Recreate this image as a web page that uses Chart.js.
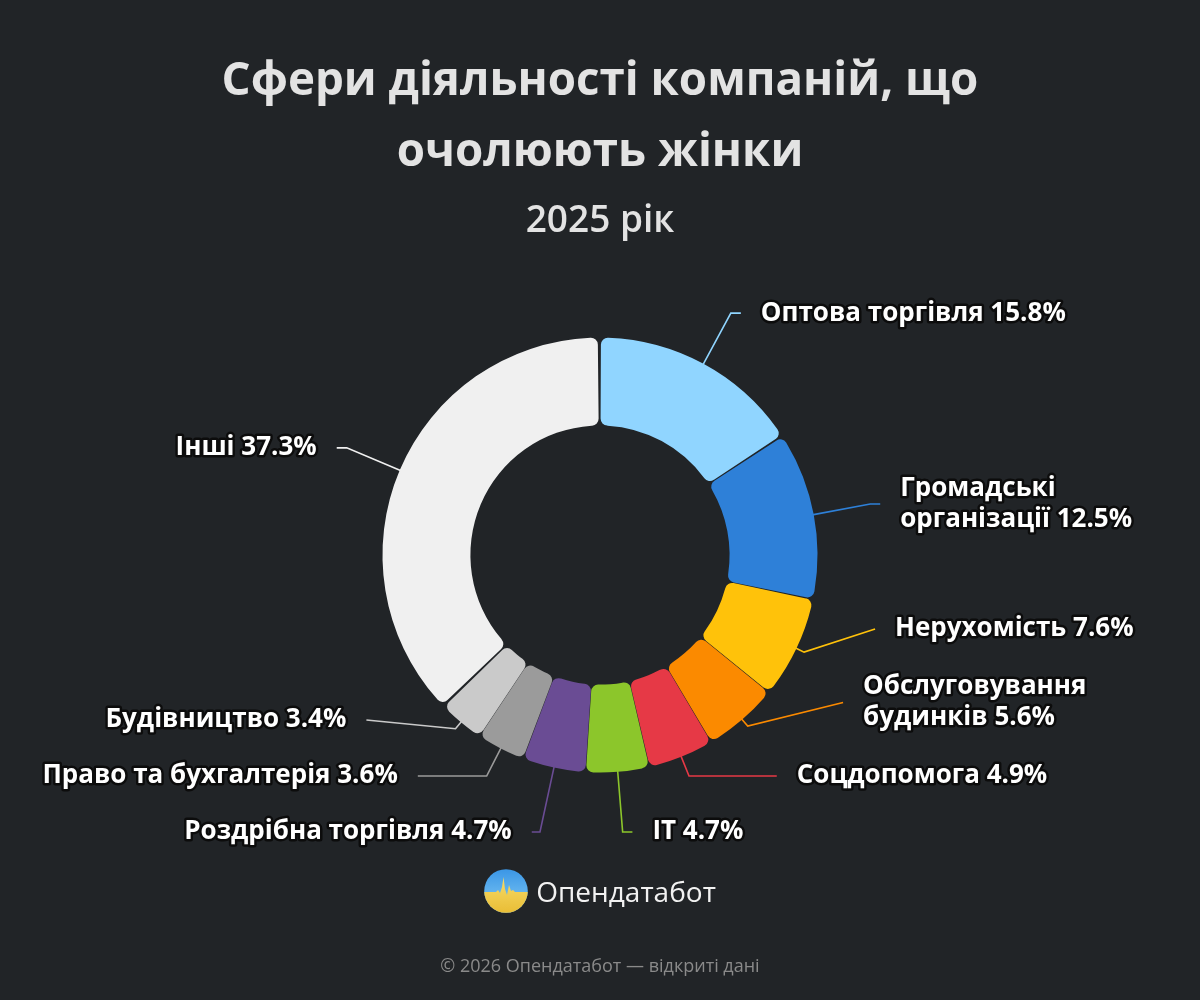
<!DOCTYPE html>
<html><head><meta charset="utf-8">
<script src="https://cdn.jsdelivr.net/npm/chart.js@4.4.1/dist/chart.umd.min.js"></script>
<style>
html,body{margin:0;padding:0;background:#212427;}
#wrap{position:relative;width:1200px;height:1000px;overflow:hidden;font-family:'Open Sans','Noto Sans',sans-serif;}
#c{position:absolute;left:0;top:0;}
.t{position:absolute;left:0;width:1200px;text-align:center;color:#e3e3e3;}
#title{top:42px;font-size:45.7px;line-height:71px;font-weight:700;}
#sub{top:192px;font-size:37px;line-height:52px;font-weight:600;}
#logo{position:absolute;top:869px;left:0;width:1200px;display:flex;justify-content:center;align-items:center;gap:8px;}
#logo span{font-size:28px;color:#f2f2f2;font-weight:400;line-height:44px;}
#foot{top:952px;font-size:18px;line-height:26px;color:#8a8a8a;}
</style></head>
<body><div id="wrap">
<canvas id="c" width="1200" height="1000"></canvas>
<div class="t" id="title">Сфери діяльності компаній, що<br>очолюють жінки</div>
<div class="t" id="sub">2025 рік</div>
<div id="logo"><svg width="44" height="44" viewBox="0 0 44 44">
<defs><clipPath id="cc"><circle cx="22" cy="22" r="21.8"/></clipPath>
<linearGradient id="gb" x1="0" y1="0" x2="0" y2="1"><stop offset="0" stop-color="#3a96e6"/><stop offset="1" stop-color="#86cdf5"/></linearGradient>
<linearGradient id="gy" x1="0" y1="0" x2="0" y2="1"><stop offset="0" stop-color="#f7dc6a"/><stop offset="1" stop-color="#e9bd35"/></linearGradient></defs>
<g clip-path="url(#cc)"><rect x="0" y="0" width="44" height="44" fill="url(#gb)"/>
<polygon fill="url(#gy)" points="0,23 12,23 14,21 16,24 18,18 19.5,8 21,20 23,26 25,16 27,22 29,21 31,23 44,23 44,44 0,44"/></g></svg><span>Опендатабот</span></div>
<div class="t" id="foot">© 2026 Опендатабот — відкриті дані</div>
</div>
<script>
const categories = ['Оптова торгівля','Громадські\nорганізації','Нерухомість','Обслуговування\nбудинків','Соцдопомога','IT','Роздрібна торгівля','Право та бухгалтерія','Будівництво','Інші'];
const shares = [15.8, 12.5, 7.6, 5.6, 4.9, 4.7, 4.7, 3.6, 3.4, 37.3];
const colors = ['#90d5ff','#2e80d8','#ffc20a','#fb8a00','#e63946','#8cc62b','#6a4c94','#9b9b9b','#cacaca','#f0f0f0'];

const LEN = 59, LEN2 = 10, GAP = 20, MINLEN = 10, LH = 31;

const labelPlugin = {
  id: 'pieLabels',
  afterDatasetsDraw(chart) {
    const ctx = chart.ctx;
    const meta = chart.getDatasetMeta(0);
    const area = chart.chartArea;
    const items = meta.data.map((arc, i) => {
      const p = arc.getProps(['x','y','startAngle','endAngle','outerRadius'], true);
      const a = (p.startAngle + p.endAngle) / 2;
      const c = Math.cos(a), s = Math.sin(a);
      const rA = p.outerRadius + LEN;
      const lines = (categories[i] + ' ' + shares[i].toFixed(1) + '%').split('\n');
      return {i, cx: p.x, cy: p.y, c, s, r: p.outerRadius, rA,
        dir: c >= 0 ? 1 : -1, ny: p.y + rA * s, nx: rA * c,
        lines, h: 21 + lines.length * 35};
    });
    const minY = area.top, maxY = area.bottom;
    function place(cl) {
      let off = 0; const offs = [];
      cl.items.forEach((it, k) => { if (k > 0) off += (cl.items[k-1].h + it.h) / 2; offs.push(off); });
      const meanN = cl.items.reduce((q, it) => q + it.ny, 0) / cl.items.length;
      const meanO = offs.reduce((q, v) => q + v, 0) / offs.length;
      let first = meanN - meanO;
      const h0 = cl.items[0].h / 2, hl = cl.items[cl.items.length-1].h / 2;
      if (first + off + hl > maxY) first -= (first + off + hl - maxY);
      if (first - h0 < minY) first += (minY - (first - h0));
      cl.items.forEach((it, k) => it.y = first + offs[k]);
      cl.top = first - h0; cl.bottom = first + off + hl;
    }
    [1, -1].forEach(side => {
      const list = items.filter(it => it.dir === side).sort((a, b) => a.ny - b.ny);
      let clusters = list.map(it => ({items: [it]}));
      clusters.forEach(place);
      let changed = true;
      while (changed) {
        changed = false;
        for (let k = 0; k < clusters.length - 1; k++) {
          if (clusters[k].bottom > clusters[k+1].top + 0.01) {
            const m = {items: clusters[k].items.concat(clusters[k+1].items)};
            place(m);
            clusters.splice(k, 2, m);
            changed = true; break;
          }
        }
      }
      [true, false].forEach(bottomSemi => {
        const semi = list.filter(it => (it.y > it.cy) === bottomSemi);
        if (!semi.length) return;
        let maxDy = -1, rB = 0;
        semi.forEach(it => {
          const dy = Math.abs(it.y - it.cy);
          if (dy >= maxDy) {
            const dx = it.nx;
            rB = Math.abs(dx) < it.rA ? Math.sqrt(dy * dy / (1 - dx * dx / (it.rA * it.rA))) : it.rA;
            maxDy = dy;
          }
        });
        semi.forEach(it => {
          const dy = Math.abs(it.y - it.cy);
          const f = rB > 0 ? Math.max(0, 1 - dy * dy / (rB * rB)) : 1;
          const dx = Math.sqrt(f) * it.rA;
          it.x = it.cx + (dx + LEN2) * it.dir;
        });
      });
    });
    ctx.save();
    items.forEach(it => {
      const p0x = it.cx + it.r * it.c, p0y = it.cy + it.r * it.s;
      let p1x, p1y;
      const t = Math.abs(it.s) > 1e-6 ? (it.y - p0y) / it.s : -1;
      if (t >= MINLEN && it.dir * (it.x - (p0x + t * it.c)) >= 0) {
        p1x = p0x + t * it.c; p1y = it.y;
      } else {
        p1x = p0x + MINLEN * it.c; p1y = p0y + MINLEN * it.s;
      }
      ctx.beginPath();
      ctx.moveTo(p0x, p0y); ctx.lineTo(p1x, p1y); ctx.lineTo(it.x, it.y);
      ctx.strokeStyle = colors[it.i]; ctx.lineWidth = 1.6; ctx.lineJoin = 'miter';
      ctx.stroke();
      ctx.font = '700 26px "Open Sans"';
      ctx.textBaseline = 'middle';
      ctx.textAlign = it.dir > 0 ? 'left' : 'right';
      const tx = it.x + GAP * it.dir;
      it.lines.forEach((ln, k) => {
        const ly = it.y + (k - (it.lines.length - 1) / 2) * LH;
        ctx.lineJoin = 'round';
        ctx.lineWidth = 5; ctx.strokeStyle = '#0c0c0c';
        ctx.strokeText(ln, tx, ly);
        ctx.fillStyle = '#ffffff';
        ctx.fillText(ln, tx, ly);
      });
    });
    ctx.restore();
  }
};

new Chart(document.getElementById('c'), {
  type: 'doughnut',
  data: { labels: categories, datasets: [{ data: shares, backgroundColor: colors, borderWidth: 0, borderRadius: 7, spacing: 3 }] },
  options: {
    responsive: false, animation: false,
    radius: 216, cutout: '59.3%',
    layout: { padding: { top: 250, bottom: 140, left: 0, right: 0 } },
    plugins: { legend: { display: false }, tooltip: { enabled: false } }
  },
  plugins: [labelPlugin]
});
</script>
</body></html>
